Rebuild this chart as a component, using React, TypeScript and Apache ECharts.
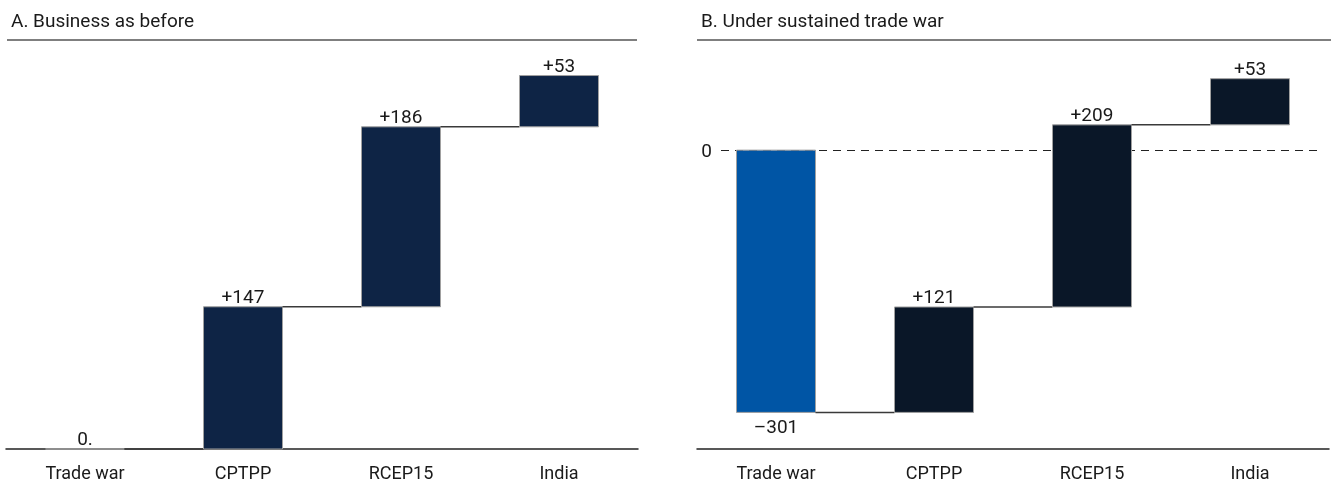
import React, { useEffect, useRef } from "react";
import * as echarts from "echarts";

const categories = ["Trade war", "CPTPP", "RCEP15", "India"];
const deltasA = [0, 147, 186, 53];
const deltasB = [-301, 121, 209, 53];
const labelsA = ["0.", "+147", "+186", "+53"];
const labelsB = ["–301", "+121", "+209", "+53"];
const colorsA = ["#0E2445", "#0E2445", "#0E2445", "#0E2445"];
const colorsB = ["#0055A5", "#0A1728", "#0A1728", "#0A1728"];
const titleA = "A. Business as before";
const titleB = "B. Under sustained trade war";

const FONT = "Roboto";

function steps(deltas: number[]) {
  let acc = 0;
  return deltas.map((d, i) => {
    const s = acc;
    acc += d;
    return [i, s, acc, d];
  });
}

const makeRender = (colors: string[], labels: string[], n: number) => (params: any, api: any) => {
  const i = api.value(0);
  const s = api.value(1);
  const e = api.value(2);
  const bandW = api.size([1, 0])[0];
  const bw = bandW * 0.5;
  const pS = api.coord([i, s]);
  const pE = api.coord([i, e]);
  const x0 = pS[0] - bw / 2;
  const yTop = Math.min(pS[1], pE[1]);
  const h = Math.abs(pS[1] - pE[1]);
  const children: any[] = [
    {
      type: "rect",
      shape: { x: x0, y: yTop, width: bw, height: h },
      style: { fill: colors[i], stroke: "#a0a0a0", lineWidth: 1 },
    },
  ];
  if (i < n - 1) {
    const pN = api.coord([i + 1, e]);
    children.push({
      type: "line",
      shape: { x1: x0 + bw, y1: pE[1], x2: pN[0] - bw / 2, y2: pE[1] },
      style: { stroke: "#3a3a3a", lineWidth: 1.5 },
    });
  }
  const up = e >= s;
  children.push({
    type: "text",
    style: {
      text: labels[i],
      x: pS[0],
      y: up ? yTop - 1 : yTop + h + 5,
      textAlign: "center",
      textVerticalAlign: up ? "bottom" : "top",
      align: "center",
      verticalAlign: up ? "bottom" : "top",
      fill: "#1a1a1a",
      fontSize: 19,
      fontFamily: FONT,
    },
  });
  return { type: "group", children };
};

export default function App() {
  const ref = useRef<HTMLDivElement>(null);
  useEffect(() => {
    if (!ref.current) return;
    const chart = echarts.init(ref.current, null, { renderer: "svg" });
    const xAxisBase = (gridIndex: number) => ({
      type: "category",
      gridIndex,
      data: categories,
      boundaryGap: true,
      axisTick: { show: false },
      axisLine: { onZero: false, lineStyle: { color: "#222", width: 1.5 } },
      axisLabel: { fontSize: 18, color: "#1a1a1a", fontFamily: FONT, margin: 14 },
      splitLine: { show: false },
    });
    chart.setOption({
      animation: false,
      textStyle: { fontFamily: FONT },
      title: [
        { text: titleA, left: 6, top: 6, textStyle: { fontSize: 19, fontWeight: "normal", color: "#1a1a1a", fontFamily: FONT } },
        { text: titleB, left: 696, top: 6, textStyle: { fontSize: 19, fontWeight: "normal", color: "#1a1a1a", fontFamily: FONT } },
      ],
      graphic: [
        { type: "line", shape: { x1: 7, y1: 40, x2: 637, y2: 40 }, style: { stroke: "#555", lineWidth: 1.5 } },
        { type: "line", shape: { x1: 697, y1: 40, x2: 1331, y2: 40 }, style: { stroke: "#555", lineWidth: 1.5 } },
      ],
      grid: [
        { left: 6, top: 62, width: 632, height: 387 },
        { left: 697, top: 63, width: 632, height: 386 },
      ],
      xAxis: [xAxisBase(0), xAxisBase(1)],
      yAxis: [
        { type: "value", gridIndex: 0, min: 0, max: 400, show: false, splitLine: { show: false } },
        { type: "value", gridIndex: 1, min: -343, max: 100, show: false, splitLine: { show: false } },
      ],
      series: [
        {
          type: "custom",
          xAxisIndex: 0,
          yAxisIndex: 0,
          renderItem: makeRender(colorsA, labelsA, deltasA.length),
          encode: { x: 0, y: [1, 2] },
          data: steps(deltasA),
          clip: false,
          silent: true,
        },
        {
          type: "custom",
          xAxisIndex: 1,
          yAxisIndex: 1,
          renderItem: makeRender(colorsB, labelsB, deltasB.length),
          encode: { x: 0, y: [1, 2] },
          data: steps(deltasB),
          clip: false,
          silent: true,
          z: 3,
          markLine: {
            silent: true,
            symbol: ["none", "none"],
            lineStyle: { type: [8, 6], color: "#222", width: 1.2 },
            label: { show: true, position: "start", formatter: "0", fontSize: 19, color: "#1a1a1a", fontFamily: FONT, distance: 9 },
            data: [[{ x: 721, yAxis: 0 }, { x: 1317, yAxis: 0 }]],
            z: 1,
          },
        },
      ],
    });
    return () => chart.dispose();
  }, []);
  return <div ref={ref} style={{ position: "fixed", left: 0, top: 0, width: 1331, height: 497 }} />;
}
